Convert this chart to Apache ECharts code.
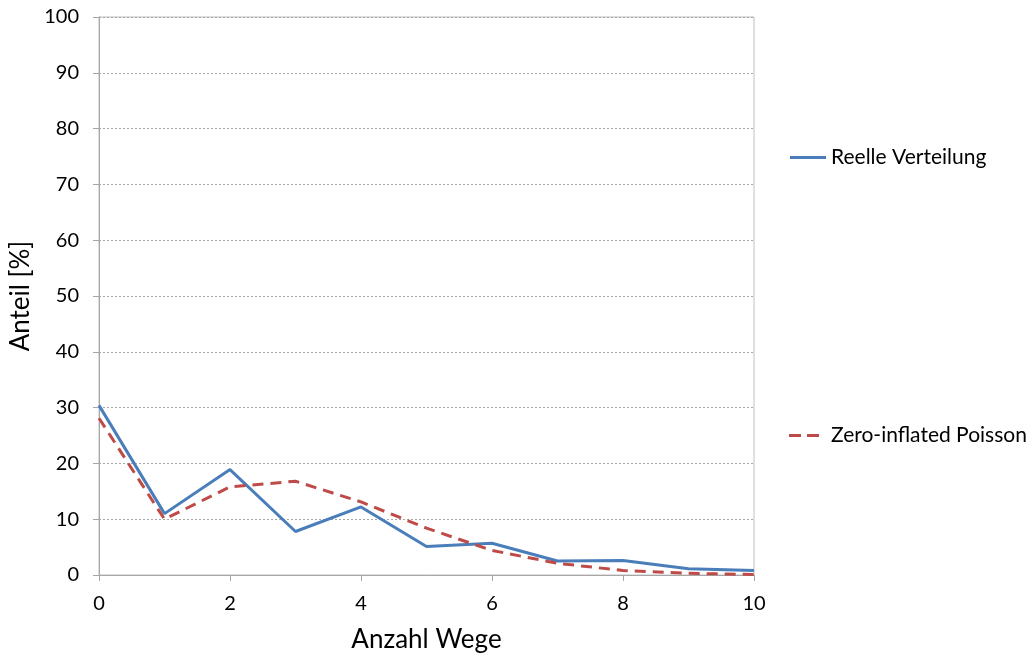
<!DOCTYPE html>
<html>
<head>
<meta charset="utf-8">
<script src="https://cdn.jsdelivr.net/npm/echarts@6/dist/echarts.min.js"></script>
<style>html,body{margin:0;padding:0;background:#fff}#c{width:1032px;height:655px}</style>
</head>
<body>
<div id="c"></div>
<script>
var xValues = [0, 1, 2, 3, 4, 5, 6, 7, 8, 9, 10];
var reelle = [30.4, 11.0, 18.9, 7.8, 12.2, 5.1, 5.7, 2.5, 2.6, 1.1, 0.8];
var poisson = [28.1, 10.0, 15.8, 16.8, 13.1, 8.4, 4.4, 2.1, 0.8, 0.3, 0.1];
var seriesNames = ['Reelle Verteilung', 'Zero-inflated Poisson'];
var xTitle = 'Anzahl Wege';
var yTitle = 'Anteil [%]';

function pairs(vals) { return xValues.map(function (x, i) { return [x, vals[i]]; }); }

var FONT = 'Lato';
var chart = echarts.init(document.getElementById('c'), null, { renderer: 'canvas' });
chart.setOption({
  animation: false,
  backgroundColor: '#ffffff',
  textStyle: { fontFamily: FONT },
  grid: { left: 99, right: 278, top: 17, bottom: 80, outerBoundsMode: 'none', containLabel: false,
    show: true, borderColor: '#BFBFBF', borderWidth: 1, backgroundColor: 'transparent' },
  legend: [
    { data: [seriesNames[0]], left: 790, top: 147, padding: 0, orient: 'vertical', itemWidth: 36, itemHeight: 3,
      textStyle: { fontFamily: FONT, fontSize: 21, color: '#000' },
      icon: 'path://M0,0 L36,0 L36,3 L0,3 Z', selectedMode: false },
    { data: [seriesNames[1]], left: 789, top: 425, padding: 0, orient: 'vertical', itemWidth: 30, itemHeight: 3,
      textStyle: { fontFamily: FONT, fontSize: 21, color: '#000', padding: [0, 0, 0, 7] },
      icon: 'path://M0,0 L12,0 L12,3 L0,3 Z M18,0 L30,0 L30,3 L18,3 Z', selectedMode: false }
  ],
  xAxis: {
    type: 'value', min: 0, max: 10, interval: 2,
    name: xTitle, nameLocation: 'middle', nameGap: 52,
    nameTextStyle: { fontFamily: FONT, fontSize: 26, color: '#000' },
    axisLine: { lineStyle: { color: '#A6A6A6', width: 1 } },
    axisTick: { show: true, inside: false, length: 6, lineStyle: { color: '#A6A6A6' } },
    axisLabel: { fontFamily: FONT, fontSize: 20, color: '#000', margin: 19 },
    splitLine: { show: false }
  },
  yAxis: {
    type: 'value', min: 0, max: 100, interval: 10,
    name: yTitle, nameLocation: 'middle', nameGap: 58, nameRotate: 90,
    nameTextStyle: { fontFamily: FONT, fontSize: 26, color: '#000' },
    axisLine: { show: true, lineStyle: { color: '#A6A6A6', width: 1 } },
    axisTick: { show: true, inside: false, length: 6, lineStyle: { color: '#A6A6A6' } },
    axisLabel: { fontFamily: FONT, fontSize: 20, color: '#000', margin: 20 },
    splitLine: { show: true, lineStyle: { color: '#A6A6A6', type: [2, 2], width: 1 } }
  },
  series: [
    { name: seriesNames[0], type: 'line', data: pairs(reelle), symbol: 'none',
      lineStyle: { color: '#4A7EBB', width: 3 }, itemStyle: { color: '#4A7EBB' } },
    { name: seriesNames[1], type: 'line', data: pairs(poisson), symbol: 'none',
      lineStyle: { color: '#BE4B48', width: 3, type: [11, 7] }, itemStyle: { color: '#BE4B48' } }
  ]
});
</script>
</body>
</html>
